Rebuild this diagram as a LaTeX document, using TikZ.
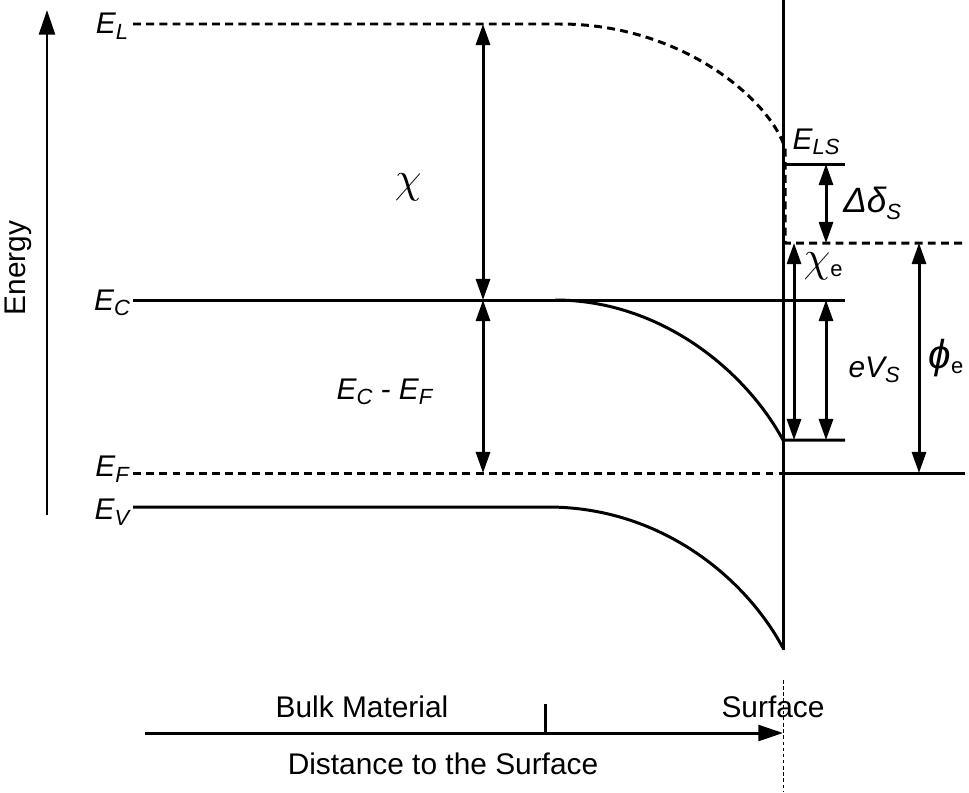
\documentclass[tikz,border=0pt]{standalone}
\usepackage{fontspec}
\setmainfont{Liberation Sans}
\usetikzlibrary{arrows.meta, positioning, calc}
\newcommand{\lsub}[1]{\raisebox{-0.35ex}{\fontsize{12.5}{12.5}\selectfont #1}}
\newcommand{\bigchi}[1]{{\fontsize{#1}{#1}\selectfont$\chi$}}

\begin{document}
\begin{tikzpicture}[
        x=0.02cm, y=-0.02cm,
        every node/.style={font=\fontsize{17}{20}\selectfont, inner sep=0},
        band/.style={line width=1.7pt},
        vacuum/.style={line width=1.7pt, dash pattern=on 4.5pt off 3pt},
        gap/.style={line width=1.7pt, {Triangle[length=12pt, width=8pt]}-{Triangle[length=12pt, width=8pt]}},
        axis/.style={line width=1.7pt, -{Triangle[length=14pt, width=9pt]}},
        guide/.style={line width=0.5pt, dash pattern=on 2pt off 1.5pt},
    ]
        \useasboundingbox (0,0) rectangle (969,792);

        % energy axis
        \coordinate (ebot) at (47,515);
        \coordinate (etop) at (47,10);
        \draw[axis] (ebot) -- (etop);
        \node[rotate=90] (energy) at (18,268) {Energy};

        % level labels
        \node (EL) at (112,26) {\textit{E\lsub{L}}};
        \node (EC) at (112,303) {\textit{E\lsub{C}}};
        \node (EF) at (112,469) {\textit{E\lsub{F}}};
        \node (EV) at (112,512) {\textit{E\lsub{V}}};

        % vacuum level
        \coordinate (vacA) at (133,24);
        \coordinate (vacB) at (560,24);
        \coordinate (vacC) at (785,148);
        \coordinate (vacD) at (785,243);
        \coordinate (vacE) at (965,243);
        \draw[vacuum] (vacA) -- (vacB) .. controls (682,24) and (770,100) .. (vacC) -- (vacD) -- (vacE);

        % conduction band
        \coordinate (cbA) at (133,300);
        \coordinate (cbB) at (845,300);
        \coordinate (cbbend) at (555,300);
        \coordinate (cbsurf) at (783,440);
        \coordinate (cbend) at (845,440);
        \draw[band] (cbA) -- (cbB);
        \draw[band] (cbbend) .. controls (660,300) and (745,370) .. (cbsurf) -- (cbend);

        % fermi level
        \coordinate (fA) at (133,473);
        \coordinate (fB) at (783,473);
        \coordinate (fC) at (965,473);
        \draw[vacuum] (fA) -- (fB);
        \draw[band] (fB) -- (fC);

        % valence band
        \coordinate (vbA) at (133,507);
        \coordinate (vbB) at (548,507);
        \coordinate (vbsurf) at (783,648);
        \draw[band] (vbA) -- (vbB) .. controls (660,507) and (745,577) .. (vbsurf);

        % surface
        \coordinate (stop) at (783,0);
        \coordinate (sbot) at (783,650);
        \coordinate (gtop) at (783,680);
        \coordinate (gbot) at (783,792);
        \draw[band] (stop) -- (sbot);
        \draw[guide] (gtop) -- (gbot);
        \coordinate (lsA) at (783,164);
        \coordinate (lsB) at (845,164);
        \draw[band] (lsA) -- (lsB);

        % gaps
        \draw[gap] (483,24) -- node[pos=0.59, left=34pt] (chi) {\bigchi{28}} (483,300);
        \draw[gap] (483,300) -- node[pos=0.53, left=28pt] (ecef) {\textit{E\lsub{C} - E\lsub{F}}} (483,473);
        \draw[gap] (826,164) -- node[pos=0.5, right=9pt] (dds) {\fontsize{20}{20}\selectfont\textit{Δδ\lsub{S}}} (826,243);
        \draw[gap] (794,243) -- (794,440);
        \node (chie) at (823,266) {\bigchi{23}\lsub{e}};
        \draw[gap] (826,300) -- node[pos=0.5, right=12pt] (evs) {\textit{eV\lsub{S}}} (826,440);
        \draw[gap] (919,243) -- (919,473);
        \node (phie) at (946,358) {{\fontsize{23}{23}\selectfont\textit{ϕ}}\lsub{e}};
        \node (els) at (816,142) {\textit{E\lsub{LS}}};

        % distance axis
        \coordinate (dA) at (145,733);
        \coordinate (dB) at (783,733);
        \coordinate (tickA) at (545,733);
        \coordinate (tickB) at (545,704);
        \draw[axis] (dA) -- (dB);
        \draw[band] (tickA) -- (tickB);
        \node (bulk) at (362,707) {Bulk Material};
        \node (surf) at (773,707) {Surface};
        \node (dist) at (443,764) {Distance to the Surface};
\end{tikzpicture}
\end{document}
